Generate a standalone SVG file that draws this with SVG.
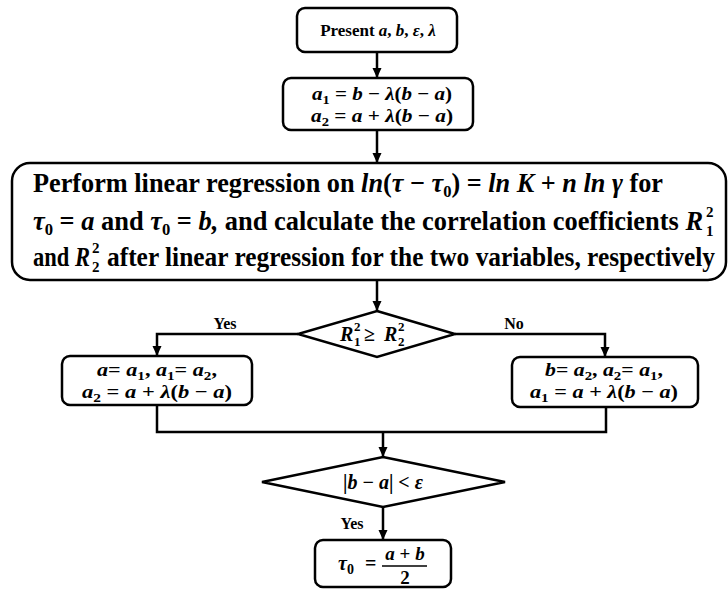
<svg xmlns="http://www.w3.org/2000/svg" width="728" height="590" viewBox="0 0 728 590">
<style>
.box{fill:#fff;stroke:#000;stroke-width:2.5}
.ln{fill:none;stroke:#000;stroke-width:2.5}
.t{font-family:"Liberation Serif","Times New Roman",serif;font-weight:bold;fill:#000}
.m{font-style:italic}
.big{font-size:27px}
.sm{font-size:19px}
.lab{font-size:16px}
</style>
<defs>
<marker id="ah" markerUnits="userSpaceOnUse" markerWidth="10" markerHeight="10" refX="10" refY="4.5" orient="auto">
<path d="M0,0 L10,4.5 L0,9 z" fill="#000"/>
</marker>
</defs>
<rect width="728" height="590" fill="#fff"/>
<g id="connectors">
<line class="ln" x1="377" y1="52" x2="377" y2="78" marker-end="url(#ah)"/>
<line class="ln" x1="377" y1="130" x2="377" y2="163" marker-end="url(#ah)"/>
<line class="ln" x1="377" y1="280" x2="377" y2="311" marker-end="url(#ah)"/>
<polyline class="ln" points="298,334 157,334 157,356" marker-end="url(#ah)"/>
<polyline class="ln" points="455,334 605,334 605,357" marker-end="url(#ah)"/>
<polyline class="ln" points="157,405 157,432 606,432 606,407"/>
<line class="ln" x1="383" y1="432" x2="383" y2="457" marker-end="url(#ah)"/>
<line class="ln" x1="383" y1="507" x2="383" y2="540" marker-end="url(#ah)"/>
<text class="t lab" x="225" y="329" text-anchor="middle">Yes</text>
<text class="t lab" x="514" y="329" text-anchor="middle">No</text>
<text class="t lab" x="352" y="529" text-anchor="middle">Yes</text>
</g>
<g id="n1">
<rect class="box" x="297" y="8" width="160" height="44" rx="8"/>
<text class="t" x="378" y="36" font-size="17" text-anchor="middle">Present <tspan class="m">a</tspan>, <tspan class="m">b</tspan>, <tspan class="m">ε</tspan>, <tspan class="m">λ</tspan></text>
</g>
<g id="n2">
<rect class="box" x="283" y="78" width="190" height="52" rx="8"/>
<text class="t sm" x="312" y="100" textLength="140" lengthAdjust="spacingAndGlyphs"><tspan class="m">a</tspan><tspan font-size="13" dy="4">1</tspan><tspan dy="-4"> = </tspan><tspan class="m">b</tspan> − <tspan class="m">λ</tspan>(<tspan class="m">b</tspan> − <tspan class="m">a</tspan>)</text>
<text class="t sm" x="311" y="122" textLength="142" lengthAdjust="spacingAndGlyphs"><tspan class="m">a</tspan><tspan font-size="13" dy="4">2</tspan><tspan dy="-4"> = </tspan><tspan class="m">a</tspan> + <tspan class="m">λ</tspan>(<tspan class="m">b</tspan> − <tspan class="m">a</tspan>)</text>
</g>
<g id="n3">
<rect class="box" x="12" y="163" width="714" height="117" rx="18"/>
<text class="t big" x="33" y="192" textLength="630" lengthAdjust="spacingAndGlyphs">Perform linear regression on  <tspan class="m">ln</tspan>(<tspan class="m">τ</tspan> − <tspan class="m">τ</tspan><tspan font-size="17" dy="5">0</tspan><tspan dy="-5">) = </tspan><tspan class="m">ln K</tspan> + <tspan class="m">n ln γ</tspan> for</text>
<text class="t big" x="33" y="230" textLength="670" lengthAdjust="spacingAndGlyphs"><tspan class="m">τ</tspan><tspan font-size="17" dy="5">0</tspan><tspan dy="-5"> = </tspan><tspan class="m">a</tspan> and <tspan class="m">τ</tspan><tspan font-size="17" dy="5">0</tspan><tspan dy="-5"> = </tspan><tspan class="m">b,</tspan> and calculate the correlation coefficients <tspan class="m">R</tspan></text>
<text class="t" x="706" y="217" font-size="15">2</text>
<text class="t" x="706" y="236" font-size="15">1</text>
<text class="t big" x="33" y="266" textLength="57" lengthAdjust="spacingAndGlyphs">and  <tspan class="m">R</tspan></text>
<text class="t" x="92" y="253" font-size="15">2</text>
<text class="t" x="92" y="272" font-size="15">2</text>
<text class="t big" x="107" y="266" textLength="608" lengthAdjust="spacingAndGlyphs">after linear regression for the two variables, respectively</text>
</g>
<g id="n4">
<polygon class="box" points="377,311 455,334 377,357 298,334"/>
<text class="t m" x="340" y="341" font-size="20">R</text>
<text class="t" x="354" y="331" font-size="13">2</text>
<text class="t" x="354" y="346" font-size="13">1</text>
<text class="t" x="364" y="341" font-size="20">≥</text>
<text class="t m" x="384" y="341" font-size="20">R</text>
<text class="t" x="398" y="331" font-size="13">2</text>
<text class="t" x="398" y="346" font-size="13">2</text>
</g>
<g id="n5">
<rect class="box" x="62" y="356" width="190" height="49" rx="8"/>
<text class="t sm" x="97" y="376" textLength="120" lengthAdjust="spacingAndGlyphs"><tspan class="m">a</tspan>= <tspan class="m">a</tspan><tspan font-size="13" dy="4">1</tspan><tspan dy="-4">, </tspan><tspan class="m">a</tspan><tspan font-size="13" dy="4">1</tspan><tspan dy="-4">= </tspan><tspan class="m">a</tspan><tspan font-size="13" dy="4">2</tspan><tspan dy="-4">,</tspan></text>
<text class="t sm" x="82" y="398" textLength="150" lengthAdjust="spacingAndGlyphs"><tspan class="m">a</tspan><tspan font-size="13" dy="4">2</tspan><tspan dy="-4"> = </tspan><tspan class="m">a</tspan> + <tspan class="m">λ</tspan>(<tspan class="m">b</tspan> − <tspan class="m">a</tspan>)</text>
</g>
<g id="n6">
<rect class="box" x="512" y="357" width="186" height="50" rx="8"/>
<text class="t sm" x="545" y="376" textLength="118" lengthAdjust="spacingAndGlyphs"><tspan class="m">b</tspan>= <tspan class="m">a</tspan><tspan font-size="13" dy="4">2</tspan><tspan dy="-4">, </tspan><tspan class="m">a</tspan><tspan font-size="13" dy="4">2</tspan><tspan dy="-4">= </tspan><tspan class="m">a</tspan><tspan font-size="13" dy="4">1</tspan><tspan dy="-4">,</tspan></text>
<text class="t sm" x="530" y="398" textLength="148" lengthAdjust="spacingAndGlyphs"><tspan class="m">a</tspan><tspan font-size="13" dy="4">1</tspan><tspan dy="-4"> = </tspan><tspan class="m">a</tspan> + <tspan class="m">λ</tspan>(<tspan class="m">b</tspan> − <tspan class="m">a</tspan>)</text>
</g>
<g id="n7">
<polygon class="box" points="383,457 505,482 383,507 262,482"/>
<text class="t" x="383" y="489" font-size="20" text-anchor="middle">|<tspan class="m">b</tspan> − <tspan class="m">a</tspan>| &lt; <tspan class="m">ε</tspan></text>
</g>
<g id="n8">
<rect class="box" x="315" y="540" width="136" height="47" rx="8"/>
<text class="t m" x="338" y="570" font-size="20">τ<tspan font-style="normal" font-size="14" dy="4">0</tspan></text>
<text class="t" x="365" y="570" font-size="20">=</text>
<line x1="382" y1="566" x2="427" y2="566" stroke="#000" stroke-width="1.5"/>
<text class="t" x="405" y="560" font-size="19" text-anchor="middle"><tspan class="m">a</tspan> + <tspan class="m">b</tspan></text>
<text class="t" x="405" y="584" font-size="19" text-anchor="middle">2</text>
</g>
</svg>
